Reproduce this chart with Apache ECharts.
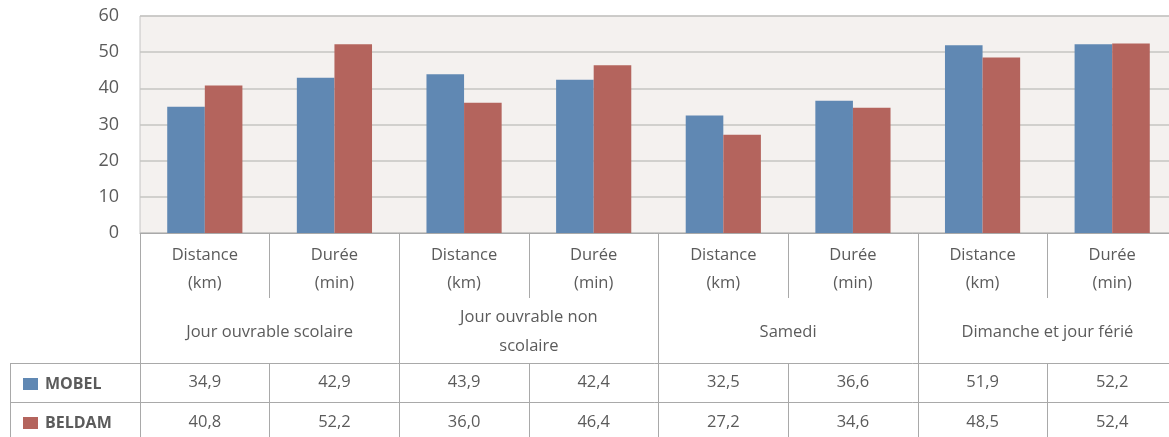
<!DOCTYPE html>
<html>
<head>
<meta charset="utf-8">
<script src="https://cdn.jsdelivr.net/npm/echarts@6/dist/echarts.min.js"></script>
<style>
  html, body { margin: 0; padding: 0; background: #ffffff; }
  #chart { width: 1169px; height: 437px; }
</style>
</head>
<body>
<div id="chart"></div>
<script>
// Indicator labels (one per bar pair)
const measures = ['Distance\n(km)', 'Durée\n(min)', 'Distance\n(km)', 'Durée\n(min)',
                  'Distance\n(km)', 'Durée\n(min)', 'Distance\n(km)', 'Durée\n(min)'];
// Day types (each spans two measures)
const dayTypes = ['Jour ouvrable scolaire', 'Jour ouvrable non\nscolaire', 'Samedi', 'Dimanche et jour férié'];
// Survey values
const mobel  = [34.9, 42.9, 43.9, 42.4, 32.5, 36.6, 51.9, 52.2];
const beldam = [40.8, 52.2, 36.0, 46.4, 27.2, 34.6, 48.5, 52.4];
const seriesNames = ['MOBEL', 'BELDAM'];
const yTicks = [0, 10, 20, 30, 40, 50, 60];

const FONT = '"Open Sans", "DejaVu Sans", sans-serif';
const TEXT = '#5b5b5b';
const LINE = '#a9a9a9';
const COLORS = ['#6088b3', '#b4645d'];

// layout
const G_LEFT = 140, G_TOP = 16, G_BOTTOM_Y = 233, G_WIDTH = 1037;
const ROW1_Y = 363, ROW2_Y = 402;

const fmt = v => v.toFixed(1).replace('.', ',');

const chart = echarts.init(document.getElementById('chart'), null, { renderer: 'canvas' });

// one data-table row drawn as an extra category axis under the plot
const rowAxis = (values, offset, tickLen) => ({
  type: 'category',
  gridIndex: 0,
  position: 'bottom',
  offset: offset,
  data: values.map(fmt),
  axisLine: { show: true, lineStyle: { color: LINE, width: 1 } },
  axisTick: { show: true, length: tickLen, lineStyle: { color: LINE, width: 1 } },
  axisLabel: {
    interval: 0, margin: tickLen / 2, verticalAlign: 'middle',
    color: TEXT, fontFamily: FONT, fontSize: 16.5
  },
  splitLine: { show: false }
});

// one legend entry per table row
const rowLegend = (name, y) => ({
  left: 18, top: y,
  itemWidth: 15, itemHeight: 12,
  icon: 'rect',
  data: [name],
  textStyle: { color: TEXT, fontFamily: FONT, fontSize: 16, fontWeight: 'bold', padding: [0, 0, 0, 2] }
});

chart.setOption({
  backgroundColor: '#ffffff',
  animation: false,
  textStyle: { fontFamily: FONT },
  grid: {
    left: G_LEFT, top: G_TOP, width: G_WIDTH, height: G_BOTTOM_Y - G_TOP,
    outerBoundsMode: 'none', containLabel: false,
    show: true, backgroundColor: '#f4f1ef', borderColor: '#c4c4c4', borderWidth: 1
  },
  legend: [
    rowLegend(seriesNames[0], ROW1_Y + 8),
    rowLegend(seriesNames[1], ROW2_Y + 8)
  ],
  yAxis: {
    type: 'value',
    min: yTicks[0], max: yTicks[yTicks.length - 1], interval: 10,
    axisLine: { show: false }, axisTick: { show: false },
    axisLabel: { color: TEXT, fontFamily: FONT, fontSize: 18, margin: 21 },
    splitLine: { lineStyle: { color: '#c6c4c2', width: 1.5 } }
  },
  xAxis: [
    {
      type: 'category',
      data: measures,
      axisLine: { show: true, lineStyle: { color: LINE } },
      axisTick: { show: true, length: 65, lineStyle: { color: LINE } },
      axisLabel: { interval: 0, margin: 8, color: TEXT, fontFamily: FONT, fontSize: 16.5, lineHeight: 28 }
    },
    {
      type: 'category',
      gridIndex: 0,
      position: 'bottom',
      data: dayTypes,
      axisLine: { show: false },
      axisTick: { show: true, length: ROW1_Y - G_BOTTOM_Y, lineStyle: { color: LINE } },
      axisLabel: { interval: 0, margin: 99, verticalAlign: 'middle', color: TEXT, fontFamily: FONT, fontSize: 16.5, lineHeight: 29 }
    },
    rowAxis(mobel, ROW1_Y - G_BOTTOM_Y, ROW2_Y - ROW1_Y),
    rowAxis(beldam, ROW2_Y - G_BOTTOM_Y, 40)
  ],
  series: [
    {
      name: seriesNames[0], type: 'bar', xAxisIndex: 0, data: mobel,
      barGap: '0%', barCategoryGap: '42%',
      itemStyle: { color: COLORS[0] }
    },
    {
      name: seriesNames[1], type: 'bar', xAxisIndex: 0, data: beldam,
      barGap: '0%', barCategoryGap: '42%',
      itemStyle: { color: COLORS[1] }
    }
  ],
  graphic: [
    // borders of the legend column of the data table
    { type: 'line', shape: { x1: 10.5, y1: ROW1_Y, x2: 10.5, y2: 437 }, style: { stroke: LINE, lineWidth: 1 } },
    { type: 'line', shape: { x1: 10, y1: ROW1_Y + 0.5, x2: G_LEFT, y2: ROW1_Y + 0.5 }, style: { stroke: LINE, lineWidth: 1 } },
    { type: 'line', shape: { x1: 10, y1: ROW2_Y + 0.5, x2: G_LEFT, y2: ROW2_Y + 0.5 }, style: { stroke: LINE, lineWidth: 1 } }
  ]
});
</script>
</body>
</html>
